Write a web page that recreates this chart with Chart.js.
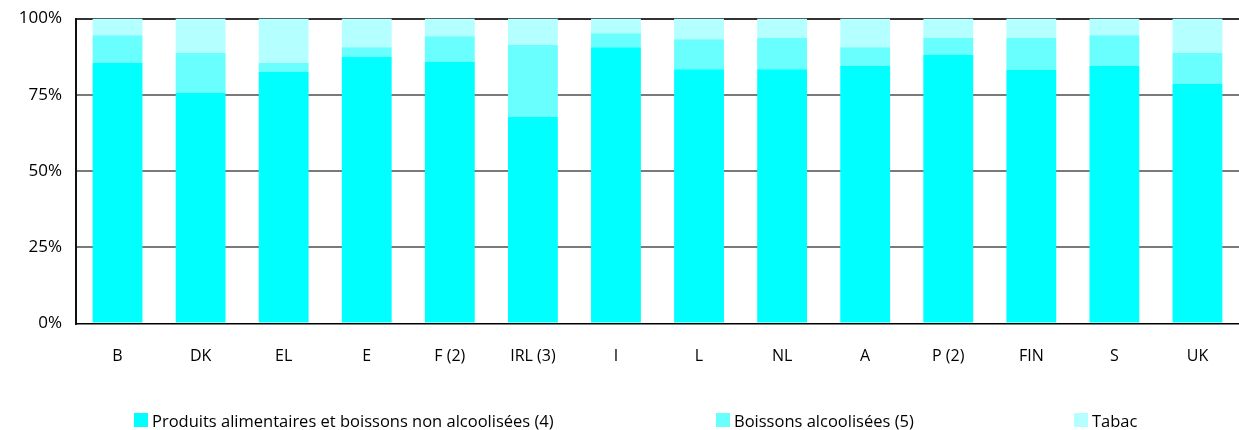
<!DOCTYPE html>
<html>
<head>
<meta charset="utf-8">
<script src="https://cdn.jsdelivr.net/npm/chart.js@4.4.0/dist/chart.umd.min.js"></script>
<style>
  html, body { margin: 0; padding: 0; background: #fff; }
  .wrap { position: relative; width: 1239px; height: 430px; }
  .legend-item { position: absolute; top: 409px; height: 22px; font: 16.5px "Open Sans", sans-serif; color: #000; display: flex; align-items: center; white-space: nowrap; }
  .legend-item span.box { width: 14px; height: 14px; margin-right: 4px; display: inline-block; }
</style>
</head>
<body>
<div class="wrap">
  <canvas id="chart" width="1239" height="430"></canvas>
  <div id="legend"></div>
</div>
<script>
// pays
const countries = ['B', 'DK', 'EL', 'E', 'F (2)', 'IRL (3)', 'I', 'L', 'NL', 'A', 'P (2)', 'FIN', 'S', 'UK'];

// parts en %
const alimentaires = [85.4, 75.6, 82.5, 87.4, 85.7, 67.7, 90.6, 83.4, 83.4, 84.4, 88.0, 83.1, 84.4, 78.5];
const alcoolisees  = [9.1, 13.1, 2.9, 3.2, 8.5, 23.6, 4.6, 9.8, 10.2, 6.2, 5.6, 10.5, 10.1, 10.2];
const tabac        = [5.5, 11.3, 14.6, 9.4, 5.8, 8.7, 4.8, 6.8, 6.4, 9.4, 6.4, 6.4, 5.5, 11.3];

const seriesLabels = ['Produits alimentaires et boissons non alcoolisées (4)', 'Boissons alcoolisées (5)', 'Tabac'];
const yTicks = [0, 25, 50, 75, 100];

const colors = ['#00FFFF', '#6AFFFF', '#B4FFFF'];
const legendLeft = [134, 716, 1074];

const family = '"Open Sans", sans-serif';

const chart = new Chart(document.getElementById('chart').getContext('2d'), {
  type: 'bar',
  data: {
    labels: countries,
    datasets: [
      { label: seriesLabels[0], data: alimentaires, backgroundColor: colors[0] },
      { label: seriesLabels[1], data: alcoolisees, backgroundColor: colors[1] },
      { label: seriesLabels[2], data: tabac, backgroundColor: colors[2] }
    ]
  },
  options: {
    responsive: false,
    animation: false,
    layout: { padding: { top: 18.5, right: 0, left: 0, bottom: 0 } },
    plugins: {
      legend: { display: false },
      tooltip: { enabled: false }
    },
    datasets: {
      bar: { barPercentage: 0.6, categoryPercentage: 1.0, borderWidth: 0 }
    },
    scales: {
      x: {
        stacked: true,
        grid: { display: false },
        border: { color: '#000', width: 1.5 },
        ticks: { color: '#000', font: { family: family, size: 16 }, padding: 15, maxRotation: 0 },
        afterFit: (scale) => { scale.height = 106.5; scale.paddingLeft = 0; scale.paddingRight = 0; }
      },
      y: {
        stacked: true,
        min: 0,
        max: 100,
        afterBuildTicks: (scale) => { scale.ticks = yTicks.map(v => ({ value: v })); },
        grid: {
          color: (ctx) => ctx.tick && ctx.tick.value === 100 ? '#333' : (ctx.tick && ctx.tick.value === 0 ? 'rgba(0,0,0,0)' : '#7a7a7a'),
          lineWidth: 2,
          drawTicks: false
        },
        border: { color: '#111', width: 2 },
        ticks: {
          color: '#000',
          font: { family: family, size: 17 },
          padding: 14,
          callback: (v) => v + '%'
        },
        afterFit: (scale) => { scale.width = 76; scale.paddingTop = 0; scale.paddingBottom = 0; }
      }
    }
  }
});

// légende HTML à partir des datasets
const legend = document.getElementById('legend');
chart.data.datasets.forEach((ds, i) => {
  const item = document.createElement('div');
  item.className = 'legend-item';
  item.style.left = legendLeft[i] + 'px';
  const box = document.createElement('span');
  box.className = 'box';
  box.style.background = ds.backgroundColor;
  item.appendChild(box);
  item.appendChild(document.createTextNode(ds.label));
  legend.appendChild(item);
});
</script>
</body>
</html>
